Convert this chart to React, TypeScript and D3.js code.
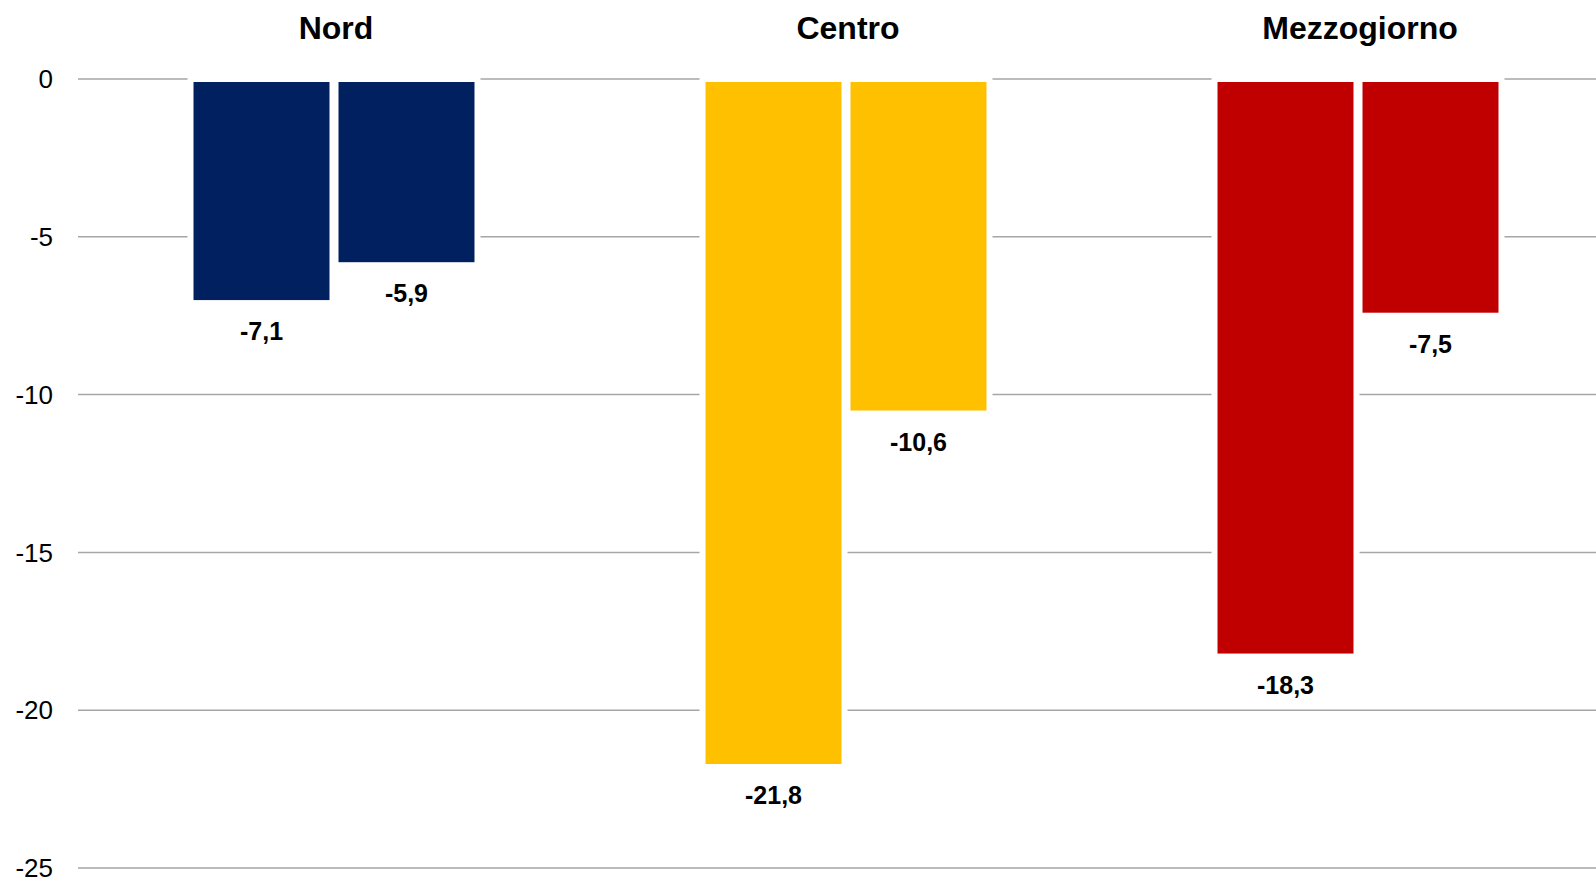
import { useEffect, useRef } from "react";
import * as d3 from "d3";

const regions = ["Nord", "Centro", "Mezzogiorno"];
const serieA = [-7.1, -21.8, -18.3];
const serieB = [-5.9, -10.6, -7.5];
const regionColors = ["#002060", "#FFC000", "#C00000"];
const yTicks = [0, -5, -10, -15, -20, -25];

const width = 1596;
const height = 880;

export default function App() {
    const svgRef = useRef<SVGSVGElement | null>(null);

    useEffect(() => {
        const svg = d3.select(svgRef.current);
        svg.selectAll("*").remove();

        const font = "'Liberation Sans', Arial, sans-serif";

        const x0 = d3.scaleBand<string>()
            .domain(regions)
            .range([78, 1614])
            .padding(0);

        const x1 = d3.scaleBand<string>()
            .domain(["a", "b"])
            .range([0, x0.bandwidth()])
            .paddingInner(0.0207)
            .paddingOuter(0.776);

        const y = d3.scaleLinear()
            .domain([0, -25])
            .range([79, 868]);

        // griglia
        svg.append("g")
            .selectAll("line")
            .data(yTicks)
            .enter()
            .append("line")
            .attr("x1", 78)
            .attr("x2", width)
            .attr("y1", d => y(d))
            .attr("y2", d => y(d))
            .attr("stroke", "#a6a6a6")
            .attr("stroke-width", 1.5);

        // etichette asse y
        svg.append("g")
            .selectAll("text")
            .data(yTicks)
            .enter()
            .append("text")
            .attr("x", 53)
            .attr("y", d => y(d))
            .attr("dy", "0.35em")
            .attr("text-anchor", "end")
            .attr("font-family", font)
            .attr("font-size", 26)
            .attr("fill", "#000")
            .text(d => String(d));

        // titoli delle categorie
        svg.append("g")
            .selectAll("text")
            .data(regions)
            .enter()
            .append("text")
            .attr("x", d => (x0(d) || 0) + x0.bandwidth() / 2 + 2)
            .attr("y", 39)
            .attr("text-anchor", "middle")
            .attr("font-family", font)
            .attr("font-weight", "bold")
            .attr("font-size", 32)
            .attr("fill", "#000")
            .text(d => d);

        const bars = regions.flatMap((r, i) => [
            { region: r, key: "a", value: serieA[i], color: regionColors[i] },
            { region: r, key: "b", value: serieB[i], color: regionColors[i] }
        ]);

        // barre
        svg.append("g")
            .selectAll("rect")
            .data(bars)
            .enter()
            .append("rect")
            .attr("x", d => (x0(d.region) || 0) + (x1(d.key) || 0))
            .attr("y", y(0))
            .attr("width", x1.bandwidth())
            .attr("height", d => y(d.value) - y(0))
            .attr("fill", d => d.color)
            .attr("stroke", "#fff")
            .attr("stroke-width", 6);

        // valori
        svg.append("g")
            .selectAll("text")
            .data(bars)
            .enter()
            .append("text")
            .attr("x", d => (x0(d.region) || 0) + (x1(d.key) || 0) + x1.bandwidth() / 2)
            .attr("y", d => y(d.value) + 37)
            .attr("text-anchor", "middle")
            .attr("font-family", font)
            .attr("font-weight", "bold")
            .attr("font-size", 25)
            .attr("fill", "#000")
            .text(d => d.value.toFixed(1).replace(".", ","));
    }, []);

    return (
        <svg
            ref={svgRef}
            width={width}
            height={height}
            style={{ position: "absolute", left: 0, top: 0, display: "block", background: "#fff" }}
        ></svg>
    );
}
